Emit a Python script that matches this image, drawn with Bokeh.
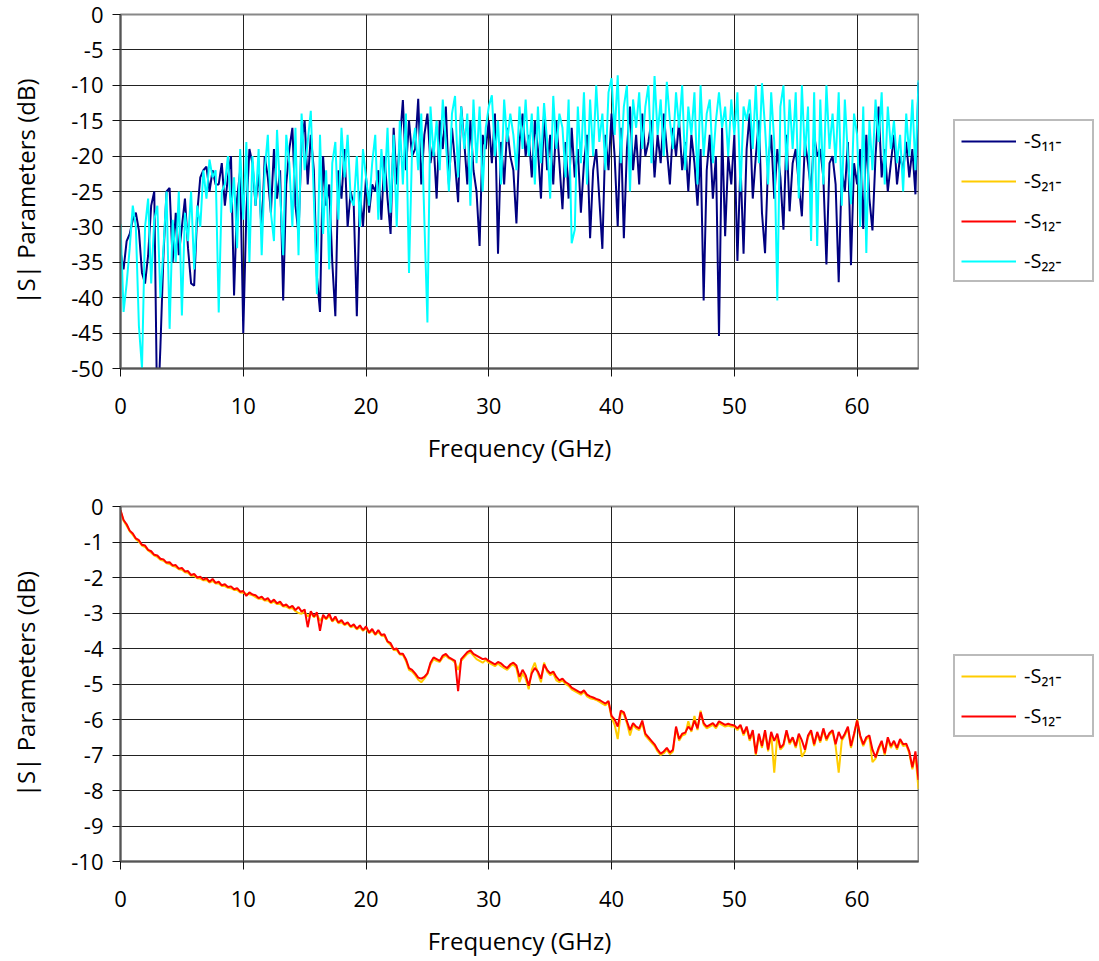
from bokeh.plotting import figure
from bokeh.layouts import column, row
from bokeh.models import Range1d, FixedTicker, Legend, LegendItem, PrintfTickFormatter
from bokeh.embed import file_html
from bokeh.resources import INLINE

# Frequency grid (GHz), 0.25 GHz step, 0..65
FREQ = [i * 0.25 for i in range(261)]

S11 = [
    -33.5, -36, -32, -31,   -29, -28, -30.5, -36.5,   -38, -34, -27, -25,
    -58, -47, -34, -25,     -24.5, -35, -28, -34,     -30, -26, -33, -38,
    -38.3, -28, -23, -22,   -21.5, -25, -22, -24,     -24, -21, -27, -23,
    -20, -39.7, -26, -22,   -45, -28, -19, -21,       -27, -22, -31, -20,
    -23, -28, -19, -26,     -22, -40.4, -24, -19,     -16, -27, -31, -18,
    -15, -24, -17, -22,     -37, -42, -20, -27,       -24, -35, -42.6, -22,
    -26, -19, -30, -25,     -27, -42.6, -25, -30,     -23, -28, -24, -25,
    -22, -29, -20, -26,     -31, -16, -24, -18,       -12.1, -22, -15, -20,
    -19, -11.9, -24, -17,   -14, -21, -18, -26,       -15, -19, -13, -24,
    -16, -21, -26.5, -13,   -18, -24, -15, -22,       -25, -32.7, -17, -19,
    -15, -21, -14, -33.8,   -18, -24, -16, -20,       -22, -29.5, -18, -14,
    -20, -17, -23, -15,     -19, -26, -14, -22,       -17, -24, -15, -21,
    -27.5, -18, -26, -16,   -23, -19, -28, -21,       -17, -31.6, -22, -19,
    -26, -33.1, -17, -22,   -14, -20, -29.9, -16,     -31.6, -19, -13, -22,
    -17, -24, -14, -20,     -18, -15, -23, -17,       -21, -14, -19, -24,
    -16, -20, -15, -22,     -18, -25, -17, -21,       -27, -19, -40.4, -22,
    -17, -26, -20, -45.4,   -16, -31.3, -20, -24,     -17, -34.8, -21, -33.8,
    -19, -14, -26, -20,     -15, -28, -33.7, -21,     -17, -26, -19, -23,
    -30.4, -17, -27.8, -21, -19, -24, -28.5, -18,     -21, -25, -17, -20,
    -19, -23, -35.3, -21,   -20, -24, -37.8, -22,     -25, -18, -35.4, -21,
    -24, -19, -30.3, -17,   -26, -30.5, -20, -13,     -23, -19, -25, -21,
    -17, -24, -20, -22,     -18, -23, -19, -25.4,     -9.6,
]

S22 = [
    -29.6, -42, -38, -33,   -27, -30, -44, -50,       -30, -26, -38, -29,
    -27, -40, -33, -25,     -44.4, -29, -35, -25,     -42.5, -28, -32, -25,
    -36, -27, -30, -22,     -26, -20.5, -23, -22,     -42.1, -25, -24, -20,
    -28, -23, -33, -19,     -29, -18, -35, -20,       -27, -19, -34, -22,
    -17, -28, -32, -16.3,   -25, -34, -17, -21,       -30, -16, -34, -14,
    -22, -18, -13.6, -26,   -39.5, -17, -31, -22,     -36, -21, -18, -29,
    -16, -23, -17, -26,     -27, -20, -30, -19,       -23, -27, -21, -17,
    -29, -19, -25, -16,     -28, -17, -30, -15,       -24, -14, -36.5, -19,
    -16, -22, -14, -29,     -43.5, -13, -20, -15,     -22, -12, -18, -25,
    -14, -11.5, -23, -13,   -19, -14, -27, -12,       -21, -13, -25, -16,
    -13, -11.4, -20, -15,   -24, -12, -18, -14,       -17, -22, -13, -19,
    -12, -20, -14, -24,     -13, -21, -12.5, -18,     -26, -11.5, -19, -14,
    -16, -23, -12, -32.3,   -30.4, -13, -21, -11,     -24, -12, -20, -10,
    -18, -14, -22, -11,     -9, -17, -8.6, -21,       -13, -10, -25, -12,
    -16, -11, -19, -13,     -10, -21, -8.7, -17,      -12, -20, -9.5, -15,
    -19, -11, -16, -10,     -22, -13, -17, -11,       -24, -10, -20, -14,
    -12, -21, -15, -11,     -16, -13, -20, -12,       -17, -11, -25, -13,
    -15, -12, -19, -10,     -21, -9.7, -16, -24,      -11, -18, -40.4, -13,
    -10, -22, -12, -19,     -11, -26, -10, -20,       -13, -32, -11, -32.7,
    -12, -24, -10, -19,     -14, -21, -11, -27,       -12, -20, -26.8, -14,
    -17, -30, -13, -33.7,   -15, -22, -12, -18,       -11, -24, -13, -19,
    -15, -21, -17, -25,     -14, -20, -12, -22,       -9.3,
]

S21 = [
    -0.12, -0.40, -0.54, -0.70,  -0.80, -0.92, -0.99, -1.10,  -1.14, -1.24, -1.30, -1.38,
    -1.42, -1.50, -1.53, -1.60,  -1.62, -1.68, -1.70, -1.77,  -1.78, -1.85, -1.87, -1.95,
    -1.95, -2.02, -2.03, -2.08,  -2.07, -2.14, -2.10, -2.17,  -2.17, -2.24, -2.24, -2.29,
    -2.30, -2.35, -2.35, -2.42,  -2.43, -2.46, -2.47, -2.50,  -2.55, -2.60, -2.59, -2.65,
    -2.64, -2.72, -2.68, -2.75,  -2.74, -2.82, -2.82, -2.87,  -2.86, -2.95, -3.00, -3.02,
    -2.97, -3.10, -3.00, -3.12,  -3.05, -3.22, -3.10, -3.18,  -3.08, -3.24, -3.16, -3.29,
    -3.26, -3.34, -3.30, -3.40,  -3.37, -3.46, -3.40, -3.50,  -3.43, -3.57, -3.50, -3.62,
    -3.53, -3.64, -3.65, -3.82,  -3.90, -4.04, -4.05, -4.17,  -4.18, -4.35, -4.60, -4.65,
    -4.75, -4.88, -4.95, -4.85,  -4.72, -4.45, -4.30, -4.35,  -4.38, -4.25, -4.20, -4.28,
    -4.32, -4.40, -4.60, -4.35,  -4.25, -4.15, -4.10, -4.20,  -4.30, -4.35, -4.40, -4.32,
    -4.40, -4.45, -4.50, -4.42,  -4.50, -4.55, -4.60, -4.50,  -4.45, -4.55, -4.95, -4.70,
    -4.85, -5.15, -4.60, -4.40,  -4.70, -4.95, -4.40, -4.65,  -4.75, -4.70, -4.90, -4.95,
    -4.90, -5.00, -5.05, -5.15,  -5.20, -5.25, -5.30, -5.22,  -5.35, -5.40, -5.42, -5.45,
    -5.50, -5.55, -5.60, -5.52,  -5.95, -6.15, -6.55, -5.80,  -5.85, -6.10, -6.45, -6.15,
    -6.25, -6.30, -6.10, -6.45,  -6.55, -6.65, -6.75, -6.90,  -7.00, -6.95, -6.85, -6.98,
    -6.90, -6.25, -6.60, -6.45,  -6.42, -6.05, -6.35, -5.90,  -6.30, -5.75, -6.15, -6.25,
    -6.20, -6.15, -6.25, -6.10,  -6.15, -6.20, -6.17, -6.20,  -6.20, -6.30, -6.18, -6.45,
    -6.25, -6.60, -6.35, -7.00,  -6.45, -6.80, -6.35, -6.90,  -6.40, -7.50, -6.45, -6.85,
    -6.75, -6.35, -6.70, -6.55,  -6.80, -6.45, -7.05, -6.90,  -6.50, -6.35, -6.75, -6.40,
    -6.65, -6.30, -6.60, -6.42,  -6.35, -6.75, -7.50, -6.60,  -6.45, -6.25, -6.80, -6.45,
    -6.00, -6.50, -6.75, -6.55,  -6.50, -7.20, -7.10, -6.85,  -6.65, -7.00, -6.55, -6.80,
    -6.65, -6.85, -6.60, -6.75,  -6.72, -6.95, -7.40, -7.00,  -7.96,
]

S12 = [
    -0.10, -0.38, -0.50, -0.68,  -0.76, -0.90, -0.95, -1.08,  -1.10, -1.22, -1.26, -1.36,
    -1.38, -1.47, -1.49, -1.58,  -1.57, -1.66, -1.65, -1.75,  -1.73, -1.83, -1.82, -1.93,
    -1.90, -2.00, -1.98, -2.06,  -2.02, -2.12, -2.04, -2.15,  -2.12, -2.22, -2.19, -2.27,
    -2.25, -2.33, -2.30, -2.40,  -2.38, -2.52, -2.42, -2.48,  -2.50, -2.58, -2.54, -2.63,
    -2.58, -2.70, -2.62, -2.73,  -2.68, -2.80, -2.76, -2.85,  -2.80, -2.92, -2.83, -2.96,
    -2.90, -3.40, -2.95, -3.10,  -2.98, -3.50, -3.05, -3.16,  -3.02, -3.22, -3.10, -3.27,
    -3.20, -3.32, -3.26, -3.38,  -3.32, -3.44, -3.35, -3.48,  -3.38, -3.55, -3.45, -3.60,
    -3.48, -3.62, -3.60, -3.80,  -3.85, -4.02, -4.00, -4.15,  -4.15, -4.30, -4.55, -4.60,
    -4.70, -4.82, -4.85, -4.80,  -4.70, -4.40, -4.25, -4.30,  -4.35, -4.20, -4.15, -4.25,
    -4.30, -4.35, -5.20, -4.30,  -4.20, -4.10, -4.05, -4.15,  -4.20, -4.25, -4.30, -4.28,
    -4.35, -4.40, -4.45, -4.38,  -4.42, -4.50, -4.55, -4.45,  -4.40, -4.48, -4.80, -4.60,
    -4.75, -5.05, -4.70, -4.55,  -4.65, -4.85, -4.45, -4.60,  -4.70, -4.65, -4.80, -4.90,
    -4.85, -4.95, -5.00, -5.10,  -5.15, -5.20, -5.25, -5.18,  -5.30, -5.35, -5.38, -5.42,
    -5.45, -5.50, -5.55, -5.48,  -5.90, -6.00, -6.20, -5.75,  -5.80, -6.05, -6.30, -6.10,
    -6.20, -6.25, -6.03, -6.40,  -6.50, -6.60, -6.70, -6.85,  -6.96, -6.90, -6.80, -6.93,
    -6.85, -6.20, -6.55, -6.40,  -6.37, -6.20, -6.30, -6.03,  -6.25, -5.80, -6.10, -6.20,
    -6.15, -6.10, -6.20, -6.05,  -6.10, -6.15, -6.12, -6.15,  -6.17, -6.25, -6.15, -6.40,
    -6.20, -6.55, -6.30, -6.96,  -6.40, -6.75, -6.30, -6.85,  -6.35, -6.60, -6.40, -6.80,
    -6.70, -6.30, -6.65, -6.50,  -6.75, -6.40, -6.59, -6.85,  -6.45, -6.30, -6.70, -6.35,
    -6.60, -6.25, -6.55, -6.38,  -6.30, -6.70, -6.35, -6.55,  -6.40, -6.20, -6.75, -6.40,
    -6.03, -6.45, -6.70, -6.50,  -6.45, -6.85, -7.07, -6.80,  -6.60, -6.95, -6.50, -6.75,
    -6.60, -6.80, -6.55, -6.70,  -6.68, -6.90, -7.35, -6.90,  -7.70,
]

X_TICKS = [0, 10, 20, 30, 40, 50, 60]
Y_TICKS_TOP = [0, -5, -10, -15, -20, -25, -30, -35, -40, -45, -50]
Y_TICKS_BOT = [0, -1, -2, -3, -4, -5, -6, -7, -8, -9, -10]

LABELS = {"S11": "-S\u2081\u2081-", "S21": "-S\u2082\u2081-", "S12": "-S\u2081\u2082-", "S22": "-S\u2082\u2082-"}
COLORS = {"S11": "#000080", "S21": "#FFCC00", "S12": "#FF0000", "S22": "#00FFFF"}
SERIES = {"S11": S11, "S21": S21, "S12": S12, "S22": S22}

FONT = "Open Sans"
W = 1099
LEFT = 120
FRAME_W = 798
MAIN_W = LEFT + FRAME_W + 1   # 919
LEG_W = W - MAIN_W            # 180
H1, H2 = 470, 490


def style(p, yticks):
    p.xaxis.ticker = FixedTicker(ticks=X_TICKS)
    p.yaxis.ticker = FixedTicker(ticks=yticks)
    p.xgrid.ticker = FixedTicker(ticks=X_TICKS)
    p.ygrid.ticker = FixedTicker(ticks=yticks)
    p.xaxis.formatter = PrintfTickFormatter(format="%d")
    p.yaxis.formatter = PrintfTickFormatter(format="%d")
    for g in (p.xgrid[0], p.ygrid[0]):
        g.grid_line_color = "#222222"
        g.grid_line_width = 1
    p.outline_line_color = "#888888"
    p.outline_line_width = 2
    for ax in (p.xaxis[0], p.yaxis[0]):
        ax.axis_line_color = "#555555"
        ax.axis_line_width = 2
        ax.major_tick_line_color = "#111111"
        ax.major_tick_line_width = 1
        ax.major_tick_out = 8
        ax.major_tick_in = 0
        ax.minor_tick_out = 0
        ax.minor_tick_in = 0
        ax.major_label_text_font = FONT
        ax.major_label_text_font_size = "22px"
        ax.major_label_text_color = "#000000"
        ax.axis_label_text_font = FONT
        ax.axis_label_text_font_size = "24px"
        ax.axis_label_text_font_style = "normal"
        ax.axis_label_text_color = "#000000"
    p.xaxis[0].major_label_standoff = 21
    p.yaxis[0].major_label_standoff = 9
    p.xaxis[0].axis_label_standoff = 14
    p.yaxis[0].axis_label_standoff = 26
    p.background_fill_color = "white"
    p.border_fill_color = "white"


def legend_panel(height, keys, y_px):
    # Separate narrow figure holding only the legend; its frame is aligned
    # with the neighbouring chart's frame by the row layout.
    lp = figure(width=LEG_W, height=height, output_backend="svg", toolbar_location=None,
                x_axis_location=None, y_axis_location=None,
                x_range=Range1d(0, 1), y_range=Range1d(0, 1),
                min_border_left=0, min_border_right=0, min_border_top=0, min_border_bottom=0)
    lp.grid.visible = False
    lp.outline_line_color = None
    lp.background_fill_color = "white"
    lp.border_fill_color = "white"
    items = []
    for k in keys:
        r = lp.line(FREQ[:1], SERIES[k][:1], line_color=COLORS[k], line_width=2)
        items.append(LegendItem(label=LABELS[k], renderers=[r]))
    lg = Legend(items=items, location=(953 - MAIN_W, y_px))
    lg.label_text_font = FONT
    lg.label_text_font_size = "20px"
    lg.label_text_color = "#000000"
    lg.glyph_width = 55
    lg.glyph_height = 26
    lg.label_height = 26
    lg.label_width = 62
    lg.label_standoff = 8
    lg.spacing = 13
    lg.padding = 6
    lg.margin = 0
    lg.border_line_color = "#777777"
    lg.border_line_width = 2
    lg.background_fill_color = "white"
    lg.background_fill_alpha = 1
    lp.add_layout(lg, "center")
    return lp


# ---------- top chart ----------
p1 = figure(width=MAIN_W, height=H1, output_backend="svg", toolbar_location=None,
            x_range=Range1d(0, 65), y_range=Range1d(-50, 0),
            min_border_left=LEFT, min_border_right=1,
            min_border_top=14, min_border_bottom=102,
            x_axis_label="Frequency (GHz)", y_axis_label="|S| Parameters (dB)")
style(p1, Y_TICKS_TOP)
p1.line(FREQ, S11, line_color=COLORS["S11"], line_width=2)
p1.line(FREQ[:1], S21[:1], line_color=COLORS["S21"], line_width=2)
p1.line(FREQ[:1], S12[:1], line_color=COLORS["S12"], line_width=2)
p1.line(FREQ, S22, line_color=COLORS["S22"], line_width=2)
# frame bottom at y=368 -> legend bottom at 282
leg1 = legend_panel(H1, ["S11", "S21", "S12", "S22"], 368 - 282)

# ---------- bottom chart ----------
p2 = figure(width=MAIN_W, height=H2, output_backend="svg", toolbar_location=None,
            x_range=Range1d(0, 65), y_range=Range1d(-10, 0),
            min_border_left=LEFT, min_border_right=1,
            min_border_top=36, min_border_bottom=99,
            x_axis_label="Frequency (GHz)", y_axis_label="|S| Parameters (dB)")
style(p2, Y_TICKS_BOT)
p2.line(FREQ, S21, line_color=COLORS["S21"], line_width=2)
p2.line(FREQ, S12, line_color=COLORS["S12"], line_width=2)
# frame bottom at y=861 -> legend bottom at 737
leg2 = legend_panel(H2, ["S21", "S12"], 861 - 737)

layout = column(row(p1, leg1, spacing=0), row(p2, leg2, spacing=0), spacing=0)
open("out.html", "w").write(file_html(layout, INLINE))
